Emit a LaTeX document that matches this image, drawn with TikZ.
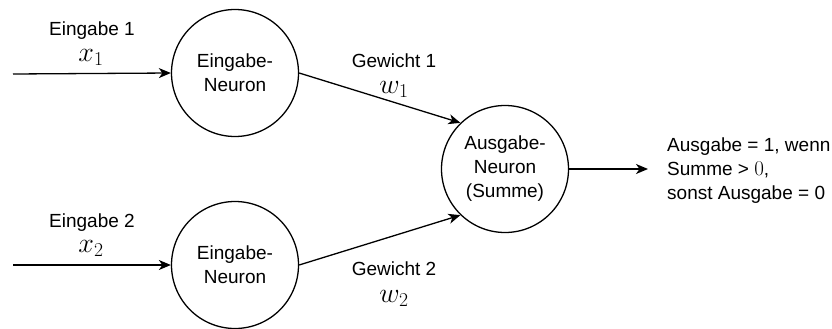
\RequirePackage{fix-cm}
\documentclass[tikz,border=0pt]{standalone}
\usepackage[no-math]{fontspec}
\setmainfont{Liberation Sans}
\usetikzlibrary{arrows.meta}

\begin{document}
\begin{tikzpicture}[x=1pt,y=-1pt,
  neuron/.style={circle,draw,line width=1.3pt,minimum size=127pt,inner sep=0pt,
    align=center,font=\fontsize{19}{24}\selectfont},
  lbl/.style={font=\fontsize{19}{24}\selectfont,inner sep=0pt,anchor=base},
  mathlbl/.style={font=\fontsize{28}{32}\selectfont,inner sep=0pt,anchor=base},
  conn/.style={line width=1.3pt,-{Stealth[length=12pt,width=10pt,inset=3.5pt]}}]
\useasboundingbox (0,0) rectangle (832,329);

% neurons
\node[neuron] (in1) at (235,73) {Eingabe-\\Neuron};
\node[neuron] (in2) at (235,265) {Eingabe-\\Neuron};
\node[neuron] (out) at (505,169) {Ausgabe-\\Neuron\\(Summe)};

% free ends of the input and output lines
\coordinate (src1) at (13,74);
\coordinate (src2) at (13,265);
\coordinate (dst) at (648,169);

% connections
\draw[conn] (src1) -- (in1.west);
\draw[conn] (src2) -- (in2.west);
\draw[conn] (in1.east) -- (out.134);
\draw[conn] (in2.east) -- (out.226);
\draw[conn] (out.east) -- (dst);

% labels
\node[lbl] (e1) at (92,36) {Eingabe 1};
\node[mathlbl] (x1) at (91,61) {$x_1$};
\node[lbl] (e2) at (92,227) {Eingabe 2};
\node[mathlbl] (x2) at (91,252) {$x_2$};
\node[lbl] (g1) at (394,67) {Gewicht 1};
\node[mathlbl] (w1) at (394,93) {$w_1$};
\node[lbl] (g2) at (394,275) {Gewicht 2};
\node[mathlbl] (w2) at (394,302) {$w_2$};

% output rule
\node[font=\fontsize{19}{24}\selectfont,align=left,anchor=west,inner sep=0pt] (res)
  at (667,171) {Ausgabe = 1, wenn\\Summe > {\fontsize{21}{24}\selectfont$0$},\\sonst Ausgabe = 0};
\end{tikzpicture}
\end{document}
